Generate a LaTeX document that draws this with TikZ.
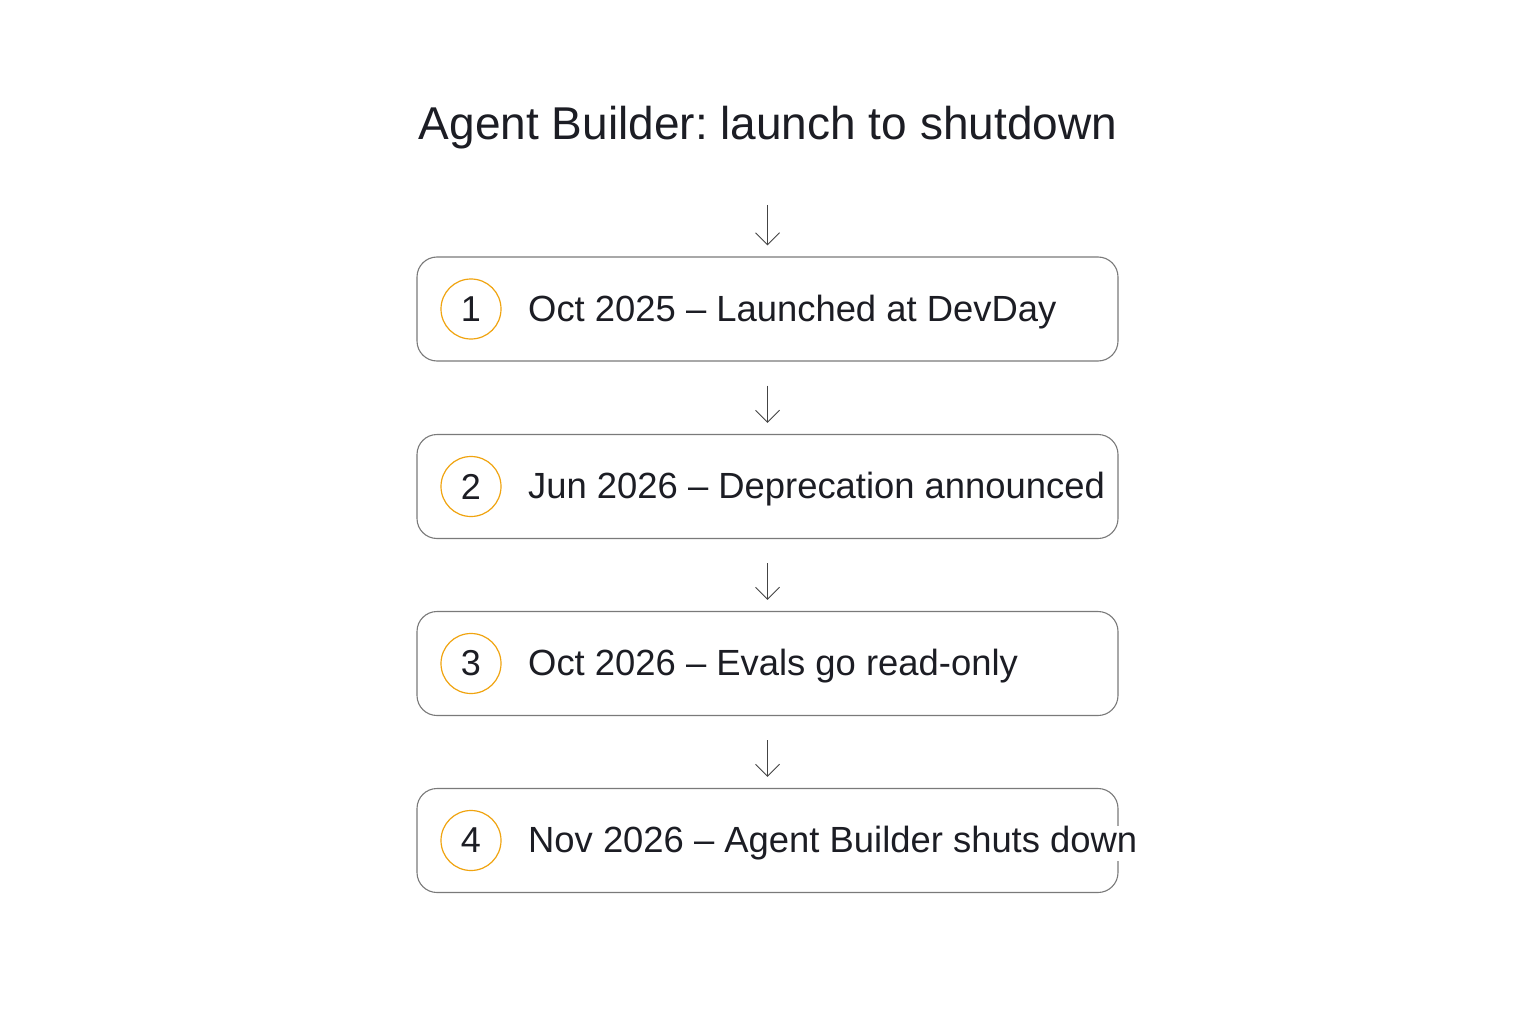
\documentclass[tikz,border=0pt]{standalone}
\usepackage{fontspec}
\setmainfont{Liberation Sans}
\usetikzlibrary{arrows.meta}
\definecolor{ink}{HTML}{1C1D24}
\definecolor{frame}{HTML}{7A7A7A}
\definecolor{ring}{HTML}{F0A410}
\definecolor{arr}{HTML}{444444}
\tikzset{
  stepbox/.style={draw=frame, line width=1.1pt, rounded corners=20pt, minimum width=701pt, minimum height=104pt, inner sep=0pt},
  numring/.style={draw=ring, line width=1.2pt, circle, minimum size=60pt, inner sep=0pt, text=ink, font=\fontsize{36}{40}\selectfont},
  steptext/.style={anchor=west, fill=white, inner sep=1pt, text=ink, font=\fontsize{36.4}{42}\selectfont},
  flow/.style={draw=arr, line width=1pt, -{Straight Barb[length=12pt,width=24pt,line width=1pt]}},
}
\begin{document}
\frenchspacing
\begin{tikzpicture}[x=1pt,y=-1pt]
\useasboundingbox[fill=white] (0,0) rectangle (1536,1024);
\node[text=ink, font=\fontsize{46}{52}\selectfont] (title) at (768,128) {Agent Builder: launch to shutdown};
\coordinate (start) at (767.5,205);
\node[stepbox] (b1) at (767.5,309) {};
\node[stepbox] (b2) at (767.5,486.5) {};
\node[stepbox] (b3) at (767.5,663.5) {};
\node[stepbox] (b4) at (767.5,840.5) {};
\node[numring] (c1) at (471,309) {1};
\node[numring] (c2) at (471,486.5) {2};
\node[numring] (c3) at (471,663.5) {3};
\node[numring] (c4) at (471,840.5) {4};
\node[steptext] (t1) at (527,312) {Oct 2025 – Launched at DevDay};
\node[steptext] (t2) at (527,489.5) {Jun 2026 – Deprecation announced};
\node[steptext] (t3) at (527,666.5) {Oct 2026 – Evals go read-only};
\node[steptext] (t4) at (527,843.5) {Nov 2026 – Agent Builder shuts down};
\draw[flow] (start) -- ([yshift=11pt]b1.north);
\draw[flow] ([yshift=-24pt]b1.south) -- ([yshift=11pt]b2.north);
\draw[flow] ([yshift=-24pt]b2.south) -- ([yshift=11pt]b3.north);
\draw[flow] ([yshift=-24pt]b3.south) -- ([yshift=11pt]b4.north);
\end{tikzpicture}
\end{document}
